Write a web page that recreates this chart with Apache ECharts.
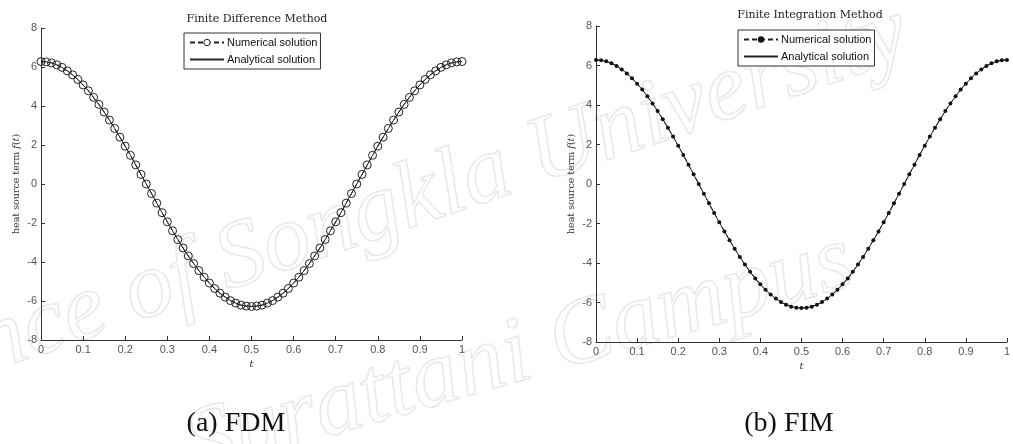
<!DOCTYPE html>
<html>
<head>
<meta charset="utf-8">
<script src="https://cdn.jsdelivr.net/npm/echarts@6/dist/echarts.min.js"></script>
<style>
html,body{margin:0;padding:0;background:#fff;}
#chart{width:1013px;height:444px;}
</style>
</head>
<body>
<div id="chart"></div>
<script>
// ---- data ----
const tValues = [0,0.0125,0.025,0.0375,0.05,0.0625,0.075,0.0875,0.1,0.1125,0.125,0.1375,0.15,0.1625,0.175,0.1875,0.2,0.2125,0.225,0.2375,0.25,0.2625,0.275,0.2875,0.3,0.3125,0.325,0.3375,0.35,0.3625,0.375,0.3875,0.4,0.4125,0.425,0.4375,0.45,0.4625,0.475,0.4875,0.5,0.5125,0.525,0.5375,0.55,0.5625,0.575,0.5875,0.6,0.6125,0.625,0.6375,0.65,0.6625,0.675,0.6875,0.7,0.7125,0.725,0.7375,0.75,0.7625,0.775,0.7875,0.8,0.8125,0.825,0.8375,0.85,0.8625,0.875,0.8875,0.9,0.9125,0.925,0.9375,0.95,0.9625,0.975,0.9875,1];
const fdmNumerical = [6.28,6.26,6.21,6.11,5.98,5.80,5.60,5.36,5.08,4.78,4.44,4.08,3.69,3.28,2.85,2.40,1.94,1.47,0.98,0.49,0.00,-0.49,-0.98,-1.47,-1.94,-2.40,-2.85,-3.28,-3.69,-4.08,-4.44,-4.78,-5.08,-5.36,-5.60,-5.80,-5.98,-6.11,-6.21,-6.26,-6.28,-6.26,-6.21,-6.11,-5.98,-5.80,-5.60,-5.36,-5.08,-4.78,-4.44,-4.08,-3.69,-3.28,-2.85,-2.40,-1.94,-1.47,-0.98,-0.49,0.00,0.49,0.98,1.47,1.94,2.40,2.85,3.28,3.69,4.08,4.44,4.78,5.08,5.36,5.60,5.80,5.98,6.11,6.21,6.26,6.28];
const fimNumerical = [6.28,6.26,6.21,6.11,5.98,5.80,5.60,5.36,5.08,4.78,4.44,4.08,3.69,3.28,2.85,2.40,1.94,1.47,0.98,0.49,0.00,-0.49,-0.98,-1.47,-1.94,-2.40,-2.85,-3.28,-3.69,-4.08,-4.44,-4.78,-5.08,-5.36,-5.60,-5.80,-5.98,-6.11,-6.21,-6.26,-6.28,-6.26,-6.21,-6.11,-5.98,-5.80,-5.60,-5.36,-5.08,-4.78,-4.44,-4.08,-3.69,-3.28,-2.85,-2.40,-1.94,-1.47,-0.98,-0.49,0.00,0.49,0.98,1.47,1.94,2.40,2.85,3.28,3.69,4.08,4.44,4.78,5.08,5.36,5.60,5.80,5.98,6.11,6.21,6.26,6.28];
const analytical = [6.28,6.26,6.21,6.11,5.98,5.80,5.60,5.36,5.08,4.78,4.44,4.08,3.69,3.28,2.85,2.40,1.94,1.47,0.98,0.49,0.00,-0.49,-0.98,-1.47,-1.94,-2.40,-2.85,-3.28,-3.69,-4.08,-4.44,-4.78,-5.08,-5.36,-5.60,-5.80,-5.98,-6.11,-6.21,-6.26,-6.28,-6.26,-6.21,-6.11,-5.98,-5.80,-5.60,-5.36,-5.08,-4.78,-4.44,-4.08,-3.69,-3.28,-2.85,-2.40,-1.94,-1.47,-0.98,-0.49,0.00,0.49,0.98,1.47,1.94,2.40,2.85,3.28,3.69,4.08,4.44,4.78,5.08,5.36,5.60,5.80,5.98,6.11,6.21,6.26,6.28];
const titles = ['Finite Difference Method', 'Finite Integration Method'];
const captions = ['(a) FDM', '(b) FIM'];
const seriesNames = ['Numerical solution', 'Analytical solution'];
const yLabel = 'heat source term ';
const xLabel = 't';
const watermark = ['Prince of Songkla University', 'Surattani Campus'];

// ---- build ----
const pairs = (ys) => tValues.map((t, i) => [t, ys[i]]);
const grids = [
  {left: 41, top: 28, width: 421, height: 312},
  {left: 596, top: 26, width: 416, height: 316}
];
const axisCommon = {
  axisLine: {show: true, onZero: false, lineStyle: {color: '#333', width: 1}},
  axisTick: {show: true, inside: true, length: 4, lineStyle: {color: '#333'}},
  splitLine: {show: false},
  axisLabel: {color: '#555', fontFamily: 'Liberation Sans', fontSize: 11}
};
const xAxes = grids.map((g, i) => Object.assign({}, axisCommon, {
  type: 'value', gridIndex: i, min: 0, max: 1, interval: 0.1,
  axisLabel: Object.assign({}, axisCommon.axisLabel, {margin: 4, formatter: v => String(Math.round(v * 10) / 10)}),
  name: xLabel, nameLocation: 'middle', nameGap: 16,
  nameTextStyle: {fontFamily: 'DejaVu Serif', fontStyle: 'italic', fontSize: 10, color: '#333'}
}));
const yAxes = grids.map((g, i) => Object.assign({}, axisCommon, {
  type: 'value', gridIndex: i, min: -8, max: 8, interval: 2,
  axisLabel: Object.assign({}, axisCommon.axisLabel, {margin: 4}),
  name: '{a|' + yLabel + '}{b|f}{a|(}{b|t}{a|)}', nameLocation: 'middle', nameGap: 19,
  nameTextStyle: {rich: {
    a: {fontFamily: 'DejaVu Serif', fontSize: 9.5, color: '#333'},
    b: {fontFamily: 'DejaVu Serif', fontStyle: 'italic', fontSize: 9.5, color: '#333'}
  }}
}));
const prefixes = ['A|', 'B|'];
const series = [];
[fdmNumerical, fimNumerical].forEach((num, i) => {
  series.push({
    name: prefixes[i] + seriesNames[0], type: 'line', xAxisIndex: i, yAxisIndex: i,
    data: pairs(num), showSymbol: true,
    symbol: 'circle', symbolSize: i === 0 ? 8 : 4,
    itemStyle: i === 0 ? {color: 'rgba(0,0,0,0)', borderColor: '#222', borderWidth: 1} : {color: '#111', borderColor: '#111', borderWidth: 0},
    lineStyle: {color: '#222', width: 1, type: [5, 3]},
    animation: false, z: 3
  });
  series.push({
    name: prefixes[i] + seriesNames[1], type: 'line', xAxisIndex: i, yAxisIndex: i,
    data: pairs(analytical), showSymbol: false, symbol: 'none',
    lineStyle: {color: '#222', width: 1},
    itemStyle: {color: '#222'},
    animation: false, z: 2
  });
});
const legendPos = [{left: 184, top: 33}, {left: 738, top: 30}];
const legends = legendPos.map((p, i) => ({
  left: p.left, top: p.top, orient: 'vertical',
  data: [
    i === 0
      ? {name: prefixes[i] + seriesNames[0], itemStyle: {color: '#fff', borderColor: '#222', borderWidth: 1}}
      : {name: prefixes[i] + seriesNames[0]},
    {name: prefixes[i] + seriesNames[1], itemStyle: {color: 'rgba(0,0,0,0)', borderWidth: 0, opacity: 0}}
  ],
  formatter: n => n.slice(2),
  itemWidth: 34, itemHeight: 8, itemGap: 6, padding: [4, 3, 4, 5],
  borderColor: '#333', borderWidth: 1, backgroundColor: '#fff',
  textStyle: {fontFamily: 'Liberation Sans', fontSize: 11, color: '#111', padding: [0, 0, 0, -2]},
  selectedMode: false
}));
const titleObjs = [
  {text: titles[0], left: 252, top: 9, textAlign: 'center'},
  {text: titles[1], left: 805, top: 5, textAlign: 'center'}
].map(t => Object.assign(t, {textStyle: {fontFamily: 'DejaVu Serif', fontWeight: 'normal', fontSize: 11, color: '#222'}}));

const wmStyle = {font: 'italic 95px "Liberation Serif"', fill: 'rgba(255,255,255,0)', stroke: '#e8e8e8', lineWidth: 1.5, textAlign: 'center', textVerticalAlign: 'middle'};
const option = {
  backgroundColor: '#fff',
  animation: false,
  title: titleObjs,
  legend: legends,
  grid: grids,
  xAxis: xAxes,
  yAxis: yAxes,
  series: series,
  graphic: [
    {type: 'text', x: 385, y: 210, rotation: 0.33, z: -10, silent: true,
     style: Object.assign({text: watermark[0]}, wmStyle)},
    {type: 'text', x: 520, y: 355, rotation: 0.28, z: -10, silent: true,
     style: Object.assign({text: watermark[1]}, wmStyle)},
    {type: 'text', x: 236, y: 424, z: 10,
     style: {text: captions[0], font: '28px "Liberation Serif"', fill: '#111', textAlign: 'center', textVerticalAlign: 'middle'}},
    {type: 'text', x: 789, y: 424, z: 10,
     style: {text: captions[1], font: '28px "Liberation Serif"', fill: '#111', textAlign: 'center', textVerticalAlign: 'middle'}}
  ]
};
const chart = echarts.init(document.getElementById('chart'), null, {renderer: 'canvas'});
chart.setOption(option);
</script>
</body>
</html>
